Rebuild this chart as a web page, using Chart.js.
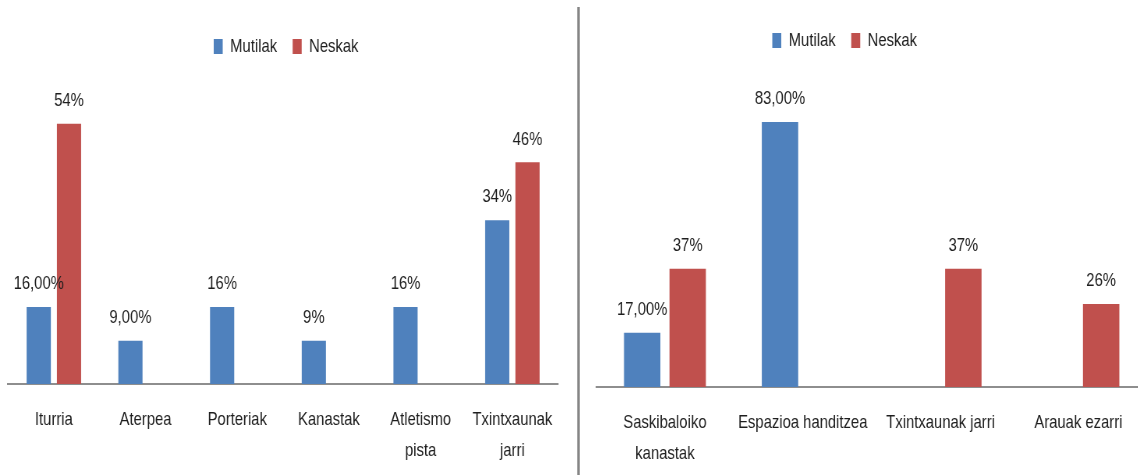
<!DOCTYPE html>
<html>
<head>
<meta charset="utf-8">
<script src="https://cdn.jsdelivr.net/npm/chart.js@4.4.1/dist/chart.umd.min.js"></script>
<style>
  html, body { margin: 0; padding: 0; background: #fff; overflow: hidden; width: 1138px; height: 475px; }
  .panel { position: absolute; top: 0; transform-origin: 0 0; }
  #wrapLeft { left: 0; }
  #wrapRight { left: 580px; }
  #divider { position: absolute; left: 577px; top: 7px; width: 3px; height: 468px;
             background: linear-gradient(to right, #b4b4b4, #858585, #b4b4b4); }
</style>
</head>
<body>
<div id="wrapLeft" class="panel"><canvas id="chartLeft"></canvas></div>
<div id="divider"></div>
<div id="wrapRight" class="panel"><canvas id="chartRight"></canvas></div>
<script>
// left panel: facilities
const leftCategories = ['Iturria', 'Aterpea', 'Porteriak', 'Kanastak', ['Atletismo', 'pista'], ['Txintxaunak', 'jarri']];
const leftMutilak = [16, 9, 16, 9, 16, 34];
const leftMutilakDecimals = [2, 2, 0, 0, 0, 0];
const leftNeskak = [54, null, null, null, null, 46];
const leftNeskakDecimals = [0, 0, 0, 0, 0, 0];

// right panel: proposals
const rightCategories = [['Saskibaloiko', 'kanastak'], 'Espazioa handitzea', 'Txintxaunak jarri', 'Arauak ezarri'];
const rightMutilak = [17, 83, null, null];
const rightMutilakDecimals = [2, 2, 0, 0];
const rightNeskak = [37, null, 37, 26];
const rightNeskakDecimals = [0, 0, 0, 0];

const seriesNames = ['Mutilak', 'Neskak'];
const BLUE = '#4f81bd';
const RED = '#c0504d';
const TEXT = '#1e1e1e';
const FONT = "'Liberation Sans', Arial, sans-serif";
const FONT_SIZE = 19;

// each panel is drawn wide and squeezed horizontally, giving narrow lettering
const SX = 0.78;
const ix = v => v / SX;

// value labels above each bar, written with a decimal comma
const barValueLabels = {
  id: 'barValueLabels',
  afterDatasetsDraw(chart, args, opts) {
    const ctx = chart.ctx;
    ctx.save();
    ctx.font = opts.size + 'px ' + FONT;
    ctx.fillStyle = TEXT;
    ctx.textAlign = 'center';
    ctx.textBaseline = 'middle';
    chart.data.datasets.forEach((ds, i) => {
      const meta = chart.getDatasetMeta(i);
      meta.data.forEach((bar, j) => {
        const v = ds.data[j];
        if (v === null || v === undefined) return;
        const text = v.toFixed(ds.decimals[j]).replace('.', ',') + '%';
        ctx.fillText(text, bar.x, bar.y - opts.offset);
      });
    });
    ctx.restore();
  }
};

// nudge the legend sideways without touching the plot area
const legendShift = {
  id: 'legendShift',
  afterLayout(chart, args, opts) {
    const dx = opts.dx || 0;
    chart.legend.left += dx;
    chart.legend.right += dx;
  }
};

function makeChart(wrapId, canvasId, categories, mutilak, mutilakDec, neskak, neskakDec, cfg) {
  const canvas = document.getElementById(canvasId);
  canvas.width = Math.round(ix(cfg.width));
  canvas.height = 475;
  document.getElementById(wrapId).style.transform = 'scaleX(' + SX + ')';

  const ds = (label, data, dec, color) => ({
    label: label,
    data: data,
    decimals: dec,
    backgroundColor: color,
    borderWidth: 0,
    categoryPercentage: 0.66,
    barPercentage: 0.8
  });
  return new Chart(canvas, {
    type: 'bar',
    data: {
      labels: categories,
      datasets: [
        ds(seriesNames[0], mutilak, mutilakDec, BLUE),
        ds(seriesNames[1], neskak, neskakDec, RED)
      ]
    },
    options: {
      responsive: false,
      animation: false,
      layout: {
        padding: { left: ix(cfg.padLeft), right: ix(cfg.padRight), top: cfg.padTop, bottom: 0 }
      },
      plugins: {
        tooltip: { enabled: false },
        legend: {
          position: 'top',
          labels: {
            boxWidth: ix(9),
            boxHeight: 15,
            padding: 20,
            color: TEXT,
            font: { family: FONT, size: FONT_SIZE }
          }
        },
        legendShift: { dx: ix(cfg.legendDx) },
        barValueLabels: { size: FONT_SIZE, offset: 23 }
      },
      scales: {
        x: {
          grid: { display: false, drawTicks: false },
          border: { display: true, color: '#8e8e8e', width: 2 },
          ticks: {
            color: TEXT,
            padding: cfg.tickPad,
            maxRotation: 0,
            autoSkip: false,
            font: { family: FONT, size: FONT_SIZE, lineHeight: 1.63 }
          },
          afterFit: s => { s.height = cfg.axisHeight; }
        },
        y: {
          display: false,
          min: 0,
          max: cfg.yMax
        }
      }
    },
    plugins: [barValueLabels, legendShift]
  });
}

makeChart('wrapLeft', 'chartLeft', leftCategories, leftMutilak, leftMutilakDecimals, leftNeskak, leftNeskakDecimals, {
  width: 577,
  padLeft: 8,
  padRight: 19,
  padTop: 17,
  axisHeight: 91,
  tickPad: 20.5,
  yMax: 66,
  legendDx: 3
});

makeChart('wrapRight', 'chartRight', rightCategories, rightMutilak, rightMutilakDecimals, rightNeskak, rightNeskakDecimals, {
  width: 580,
  padLeft: 16,
  padRight: 13,
  padTop: 11,
  axisHeight: 88,
  tickPad: 20,
  yMax: 102.4,
  legendDx: -27
});
</script>
</body>
</html>
